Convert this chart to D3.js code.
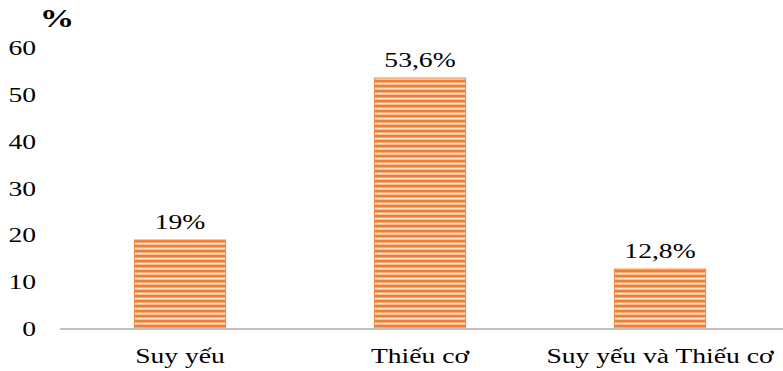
<!DOCTYPE html>
<html><head><meta charset="utf-8">
<script src="https://cdn.jsdelivr.net/npm/d3@7"></script>
<style>body{margin:0;background:#fff}</style>
</head><body>
<svg id="c" width="783" height="371"></svg>
<script>
const categories = ["Suy yếu", "Thiếu cơ", "Suy yếu và Thiếu cơ"];
const values = [19, 53.6, 12.8];
const valueLabels = ["19%", "53,6%", "12,8%"];
const yTicks = [0, 10, 20, 30, 40, 50, 60];
const yUnit = "%";

const svg = d3.select("#c");
const SX = 1.38;
const font = "'Liberation Serif','Times New Roman',serif";
const x = d3.scaleBand().domain(categories).range([60, 780]).paddingInner(0.62).paddingOuter(0.31);
const y = d3.scaleLinear().domain([0, 60]).range([329, 48]);

const defs = svg.append("defs");
const pat = defs.append("pattern").attr("id", "stripes").attr("patternUnits", "userSpaceOnUse")
  .attr("width", 8).attr("height", 5);
pat.append("rect").attr("width", 8).attr("height", 5).attr("fill", "#FCE2D0");
pat.append("rect").attr("y", 0).attr("width", 8).attr("height", 2).attr("fill", "#EE7F35");
pat.append("rect").attr("y", 2).attr("width", 8).attr("height", 1).attr("fill", "#F4A96F");
pat.append("rect").attr("y", 4).attr("width", 8).attr("height", 1).attr("fill", "#F7BF98");

// bars
svg.selectAll("rect.bar").data(values).join("rect").attr("class", "bar")
  .attr("x", (d, i) => x(categories[i]))
  .attr("width", x.bandwidth())
  .attr("y", d => y(d))
  .attr("height", d => y(0) - y(d))
  .attr("fill", "url(#stripes)")
  .attr("stroke", "#F08A45").attr("stroke-width", 1);

// axis line
svg.append("line").attr("x1", 60).attr("x2", 783).attr("y1", y(0)).attr("y2", y(0))
  .attr("stroke", "#BFBFBF").attr("stroke-width", 2);

function txt(xp, yp, s, anchor, size, weight) {
  svg.append("text").attr("transform", `translate(${xp},${yp}) scale(${SX},1)`)
    .attr("text-anchor", anchor).attr("font-family", font).attr("font-size", size)
    .attr("font-weight", weight || "normal").attr("fill", "#000").text(s);
}

// y tick labels
yTicks.forEach(t => txt(36, y(t) + 7, String(t), "end", 20));
// unit
txt(57, 27, yUnit, "middle", 25, "bold");
// value labels
values.forEach((v, i) => txt(x(categories[i]) + x.bandwidth() / 2, y(v) - 11, valueLabels[i], "middle", 20));
// category labels
categories.forEach(c => txt(x(c) + x.bandwidth() / 2, 363, c, "middle", 20));
</script>
</body></html>
